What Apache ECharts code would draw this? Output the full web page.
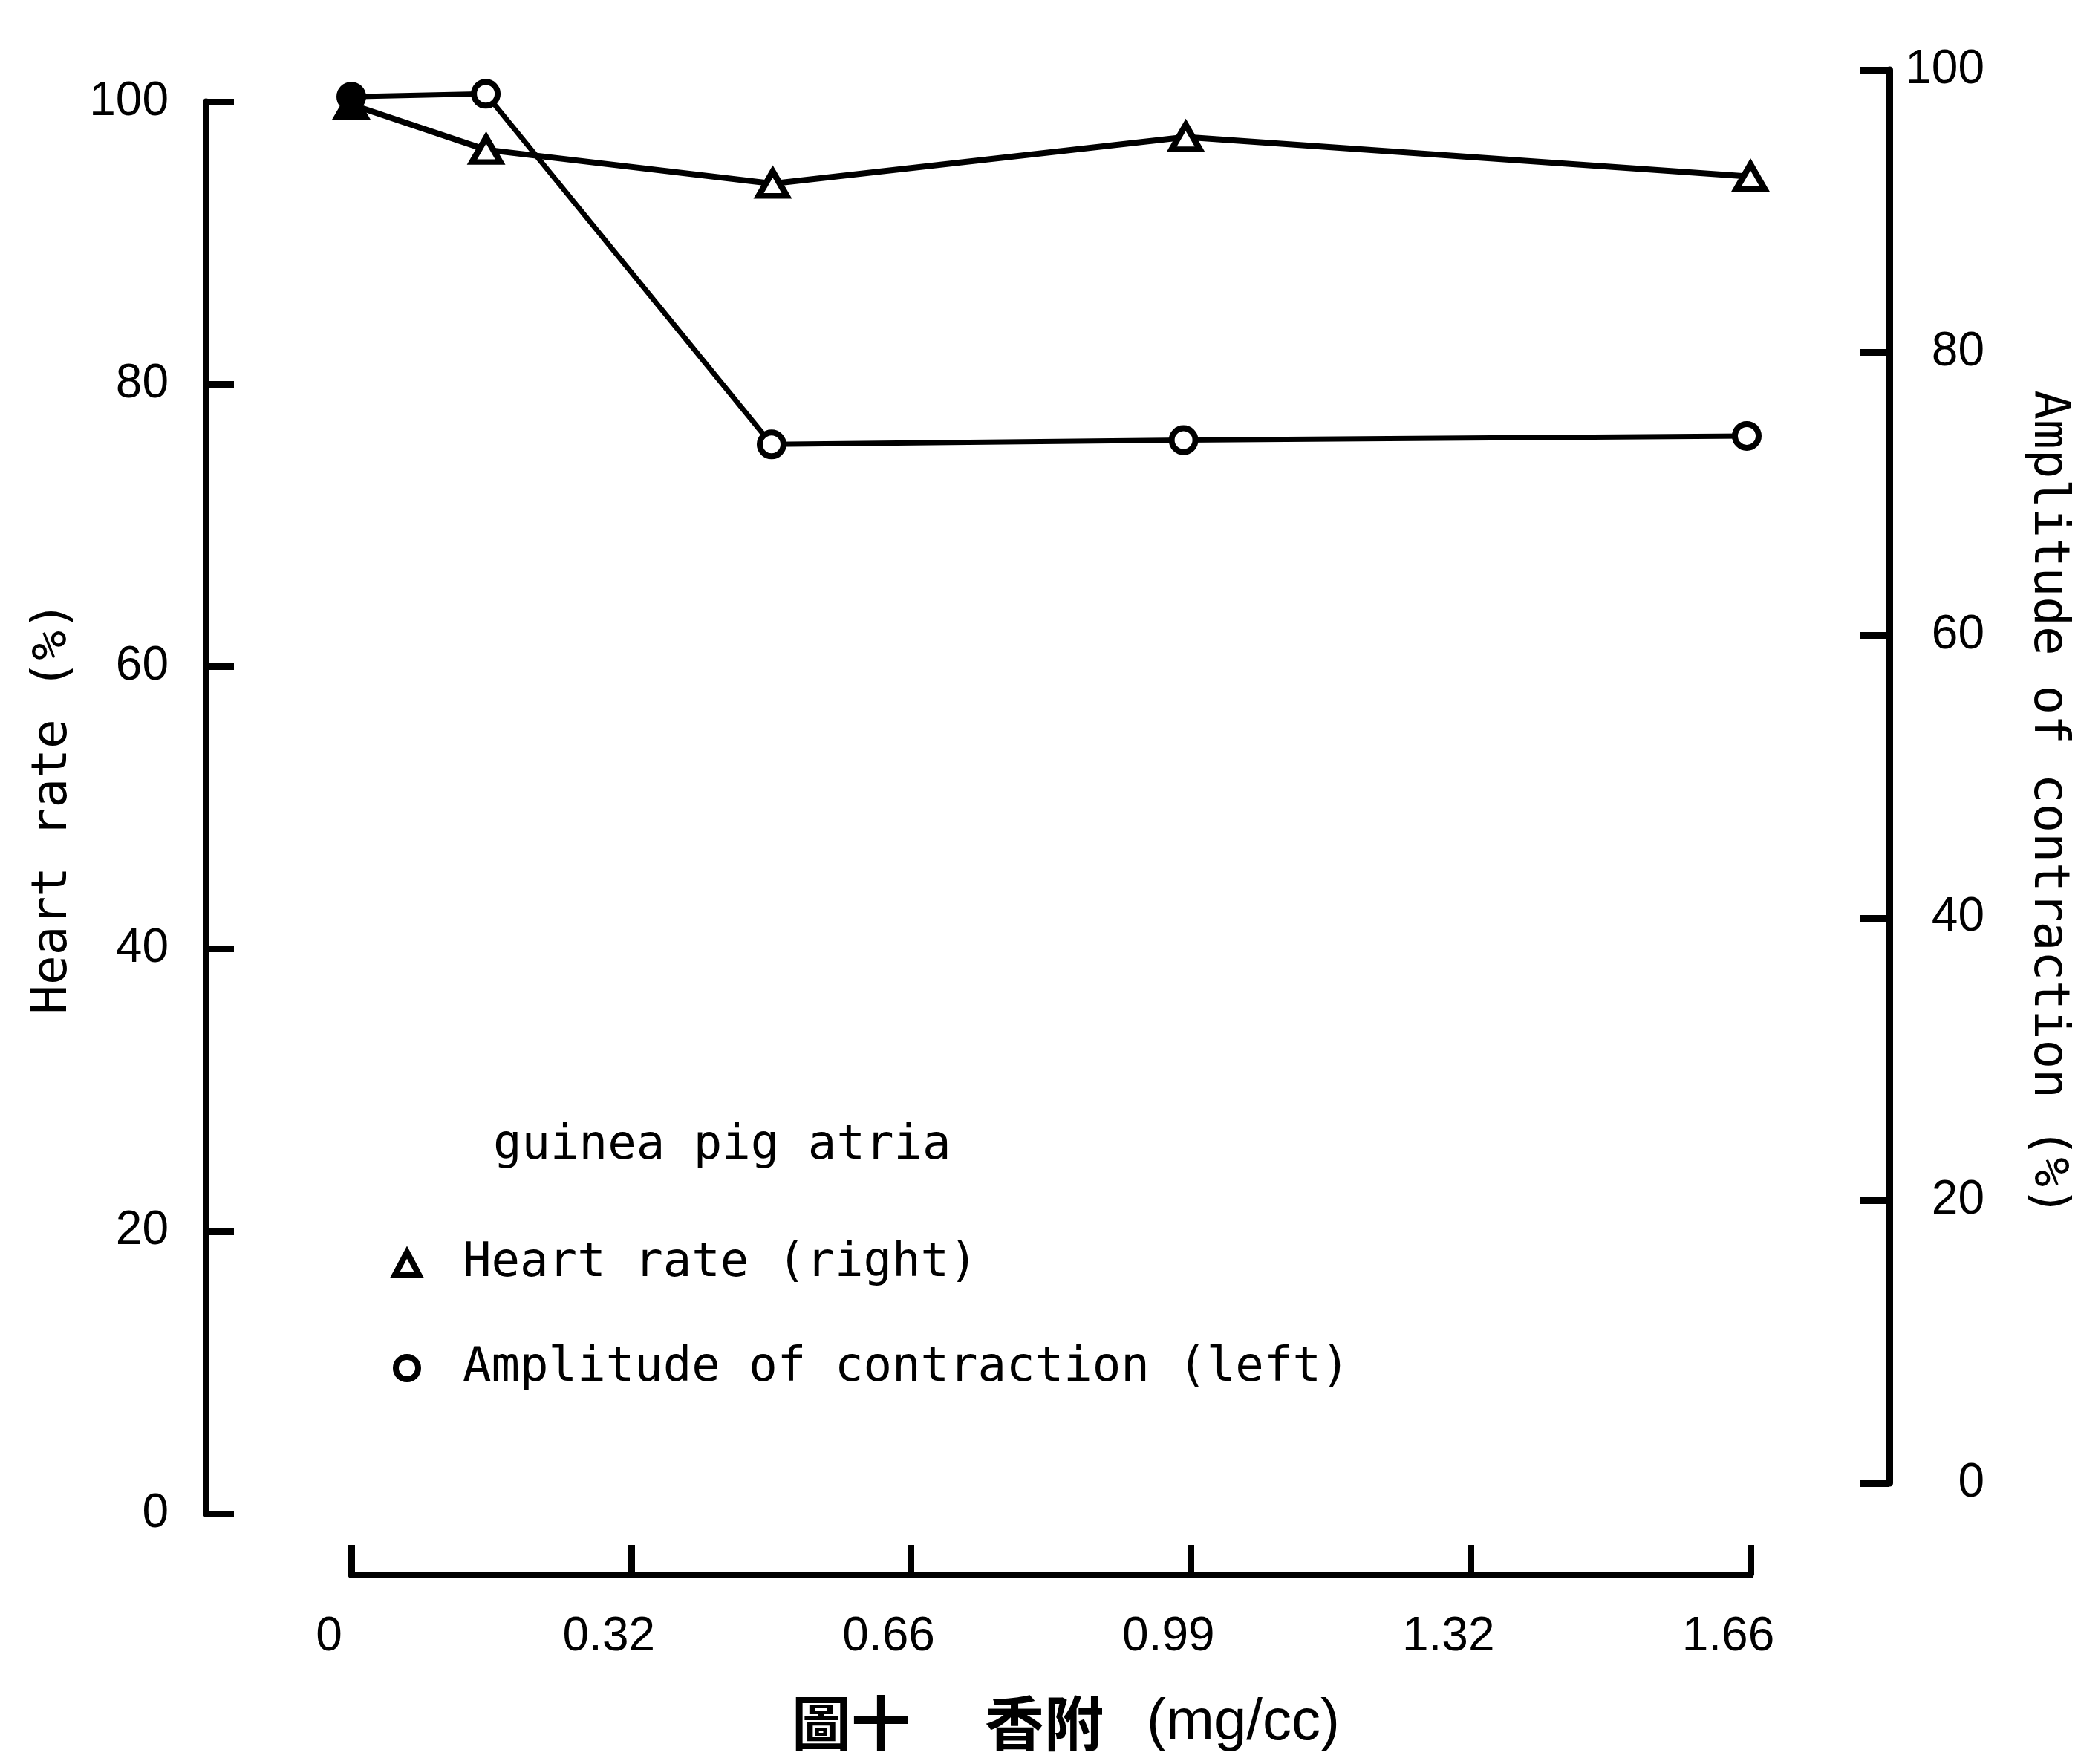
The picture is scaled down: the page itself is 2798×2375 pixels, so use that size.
<!DOCTYPE html>
<html>
<head>
<meta charset="utf-8">
<script src="https://cdn.jsdelivr.net/npm/echarts@6/dist/echarts.min.js"></script>
<style>
html,body{margin:0;padding:0;background:#fff;}
#chart{width:2798px;height:2375px;}
</style>
</head>
<body>
<div id="chart"></div>
<script>
// ---- data ----
const doses = [0, 0.16, 0.5, 0.99, 1.66];                 // mg/cc
const heartRate = [99.8, 96.6, 94.2, 97.5, 94.7];         // % (left axis)
const amplitude = [98.1, 98.3, 73.5, 73.8, 74.1];         // % (right axis)
const xTickLabels = ['0', '0.32', '0.66', '0.99', '1.32', '1.66'];
const xMax = 1.66;
const xStep = 0.332;

const monoFont = "'DejaVu Sans Mono', 'Liberation Mono', monospace";
const tickFont = "'Liberation Sans', 'DejaVu Sans', sans-serif";
const black = '#000';

function buildData(values) {
  return doses.map((d, i) => {
    const item = { value: [d, values[i]] };
    if (i === 0) item.itemStyle = { color: black };
    return item;
  });
}

const axisLineStyle = { color: black, width: 9 };
const tickLineStyle = { color: black, width: 9 };

const chart = echarts.init(document.getElementById('chart'), null, { renderer: 'canvas' });
chart.setOption({
  backgroundColor: '#fff',
  animation: false,
  title: {
    text: 'guinea pig atria',
    left: 659,
    top: 1506,
    textStyle: { fontFamily: monoFont, fontSize: 64, fontWeight: 'normal', color: black }
  },
  legend: {
    orient: 'vertical',
    left: 523,
    top: 1664,
    itemWidth: 32,
    itemHeight: 30,
    itemGap: 77,
    symbolKeepAspect: true,
    selectedMode: false,
    data: [
      { name: 'Heart rate (right)', icon: 'triangle' },
      { name: 'Amplitude of contraction (left)', icon: 'circle' }
    ],
    itemStyle: { color: '#fff', borderColor: black, borderWidth: 8 },
    textStyle: { fontFamily: monoFont, fontSize: 64, color: black, padding: [0, 0, 0, 54] }
  },
  grid: [
    { left: 473, top: 137, width: 1884, height: 1901 },
    { left: 473, top: 94, width: 1884, height: 1903 }
  ],
  xAxis: [
    {
      type: 'value', gridIndex: 0, min: 0, max: xMax, interval: xStep,
      position: 'bottom', offset: 82,
      axisLine: { show: true, onZero: false, lineStyle: axisLineStyle },
      axisTick: { show: true, inside: true, length: 40, lineStyle: tickLineStyle },
      splitLine: { show: false },
      axisLabel: {
        formatter: v => xTickLabels[Math.round(v / xStep)],
        fontFamily: tickFont, fontSize: 64, color: black, margin: 52,
        padding: [0, 60, 0, 0]
      },
      name: '{cn|圖十}{g1| }{cn|香附}{g2| }{u|(mg/cc)}',
      nameLocation: 'middle',
      nameGap: 160,
      nameTextStyle: {
        padding: [0, 0, 0, 40],
        rich: {
          cn: { fontFamily: "'Noto Sans CJK TC', 'Noto Sans CJK SC', sans-serif", fontWeight: 'bold', fontSize: 80, color: black },
          g1: { width: 100 },
          g2: { width: 58 },
          u: { fontFamily: tickFont, fontSize: 78, color: black }
        }
      }
    },
    {
      type: 'value', gridIndex: 1, min: 0, max: xMax, interval: xStep, show: false,
      splitLine: { show: false }
    }
  ],
  yAxis: [
    {
      type: 'value', gridIndex: 0, min: 0, max: 100, interval: 20,
      position: 'left', offset: 196,
      axisLine: { show: true, onZero: false, lineStyle: axisLineStyle },
      axisTick: { show: true, inside: true, length: 38, lineStyle: tickLineStyle },
      splitLine: { show: false },
      axisLabel: { fontFamily: tickFont, fontSize: 64, color: black, margin: 50 },
      name: 'Heart rate (%)',
      nameLocation: 'middle',
      nameGap: 172,
      nameTextStyle: { fontFamily: monoFont, fontSize: 66, color: black }
    },
    {
      type: 'value', gridIndex: 1, min: 0, max: 100, interval: 20,
      position: 'right', offset: 192,
      axisLine: { show: true, onZero: false, lineStyle: axisLineStyle },
      axisTick: { show: true, inside: true, length: 40, lineStyle: tickLineStyle },
      splitLine: { show: false },
      axisLabel: { fontFamily: tickFont, fontSize: 64, color: black, margin: 128, align: 'right' },
      name: 'Amplitude of contraction (%)',
      nameLocation: 'middle',
      nameRotate: -90,
      nameGap: 180,
      nameTextStyle: { fontFamily: monoFont, fontSize: 66, color: black, padding: [0, 0, 0, 72] }
    }
  ],
  series: [
    {
      name: 'Heart rate (right)',
      type: 'line',
      xAxisIndex: 0, yAxisIndex: 0,
      data: buildData(heartRate),
      symbol: 'triangle',
      symbolSize: [38, 33],
      showAllSymbol: true,
      lineStyle: { color: black, width: 8 },
      itemStyle: { color: '#fff', borderColor: black, borderWidth: 8 },
      z: 3
    },
    {
      name: 'Amplitude of contraction (left)',
      type: 'line',
      xAxisIndex: 1, yAxisIndex: 1,
      data: buildData(amplitude),
      symbol: 'circle',
      symbolSize: 32,
      showAllSymbol: true,
      lineStyle: { color: black, width: 7 },
      itemStyle: { color: '#fff', borderColor: black, borderWidth: 8 },
      z: 4
    }
  ]
});
</script>
</body>
</html>
